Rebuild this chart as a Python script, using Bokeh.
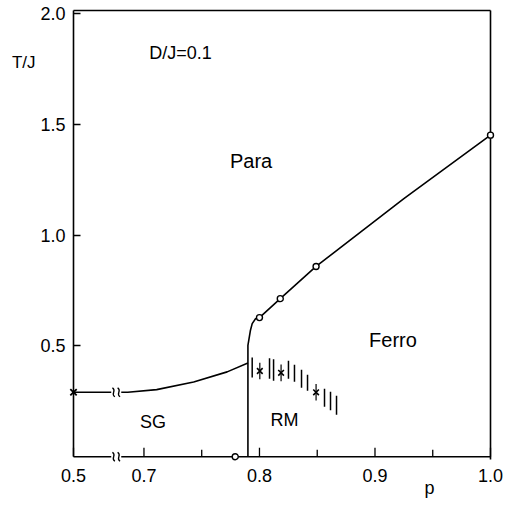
import numpy as np
from bokeh.plotting import figure
from bokeh.models import Range1d, FixedTicker, LinearAxis, Label
from bokeh.embed import file_html
from bokeh.resources import INLINE

# ---------------- data ----------------
X_TICK_VALUES = [0.5, 0.7, 0.8, 0.9, 1.0]
X_TICK_LABELS = ["0.5", "0.7", "0.8", "0.9", "1.0"]
X_MINOR_VALUES = [0.75, 0.85, 0.95]
Y_TICK_VALUES = [0.5, 1.0, 1.5, 2.0]
Y_TICK_LABELS = ["0.5", "1.0", "1.5", "2.0"]

# SG / Para boundary
sg_p = [0.5, 0.686, 0.711, 0.743, 0.772, 0.790]
sg_T = [0.291, 0.291, 0.303, 0.337, 0.383, 0.423]

# RM / SG vertical boundary continuing into Ferro / Para line
bound_p = [0.790, 0.790, 0.7922, 0.7937, 0.7966, 0.800, 0.818, 0.849, 0.925, 1.0]
bound_T = [0.0, 0.503, 0.571, 0.601, 0.623, 0.628, 0.7136, 0.859, 1.165, 1.4515]

# open circles (Ferro transition points)
circle_p = [0.800, 0.818, 0.849, 1.0]
circle_T = [0.628, 0.7136, 0.859, 1.4515]

# open circle on the p axis
zero_p = [0.779]
zero_T = [0.0]

# SG cross at p = 0.5
sg_cross_p = [0.5]
sg_cross_T = [0.291]

# RM crosses with error bars
rm_cross_p = [0.8003, 0.8187, 0.8490]
rm_cross_T = [0.387, 0.3788, 0.2909]
rm_cross_err = [0.037, 0.038, 0.037]

# hatched RM band (vertical bars)
hatch_p = [0.7937, 0.8087, 0.8122, 0.8251, 0.8303, 0.8364, 0.8416, 0.8563, 0.8615, 0.8667]
hatch_lo = [0.3573, 0.3518, 0.3428, 0.3518, 0.3383, 0.3112, 0.2977, 0.2255, 0.2097, 0.1894]
hatch_hi = [0.4475, 0.4443, 0.4398, 0.4330, 0.4150, 0.3924, 0.3698, 0.3067, 0.2932, 0.2751]

# axis titles
X_TITLE = "p"
Y_TITLE = "T/J"

# ---------------- layout ----------------
FRAME_W, FRAME_H = 417, 449
X_START, X_END = 0.639, 1.0
Y_START, Y_END = -0.0125, 2.0142
P_BREAK = 0.676
PXX = (X_END - X_START) / FRAME_W
PXY = (Y_END - Y_START) / FRAME_H
FONT = "Liberation Sans"
LW = 1.6


def xd(pv):
    """Broken p axis: values below the break are compressed to the left."""
    if pv >= P_BREAK:
        return pv
    return X_START + (pv - 0.5) * (P_BREAK - X_START) / (P_BREAK - 0.5)


def split_at_break(xs, ys, gap):
    out_x, out_y = [], []
    for i in range(len(xs)):
        if i > 0 and xs[i - 1] < P_BREAK <= xs[i]:
            xa, xb = P_BREAK - gap, P_BREAK + gap
            out_x += [xa, float("nan"), xb]
            out_y += [float(np.interp(xa, xs[i - 1:i + 1], ys[i - 1:i + 1])), float("nan"),
                      float(np.interp(xb, xs[i - 1:i + 1], ys[i - 1:i + 1]))]
        out_x.append(xs[i])
        out_y.append(ys[i])
    return out_x, out_y


p = figure(width=514, height=506, output_backend="svg", toolbar_location=None,
           x_range=Range1d(X_START, X_END), y_range=Range1d(Y_START, Y_END),
           min_border_left=73, min_border_right=24, min_border_top=10, min_border_bottom=47)
p.outline_line_color = None
p.xgrid.visible = False
p.ygrid.visible = False
p.background_fill_color = "white"
p.border_fill_color = "white"

# x axis: labels only (ticks and line drawn at T = 0 because of the break)
xa = p.xaxis[0]
xa.ticker = FixedTicker(ticks=[xd(v) for v in X_TICK_VALUES])
xa.major_label_overrides = {xd(v): s for v, s in zip(X_TICK_VALUES, X_TICK_LABELS)}
xa.axis_line_color = None
xa.major_tick_in, xa.major_tick_out = 0, 0
xa.minor_tick_in, xa.minor_tick_out = 0, 0
xa.major_label_text_font = FONT
xa.major_label_text_font_size = "18px"
xa.major_label_text_color = "black"
xa.major_label_standoff = 9

# second bottom axis carrying the "p" title
P_TITLE_POS = 0.9472
xt = LinearAxis(ticker=FixedTicker(ticks=[P_TITLE_POS]), major_label_overrides={P_TITLE_POS: X_TITLE},
                axis_line_color=None, major_tick_in=0, major_tick_out=0, minor_tick_in=0,
                minor_tick_out=0, major_label_text_font=FONT, major_label_text_font_size="18px",
                major_label_text_color="black", major_label_standoff=-7)
p.add_layout(xt, "below")

ya = p.yaxis[0]
ya.ticker = FixedTicker(ticks=Y_TICK_VALUES)
ya.major_label_overrides = {v: s for v, s in zip(Y_TICK_VALUES, Y_TICK_LABELS)}
ya.bounds = (0, Y_END)
ya.axis_line_width = LW
ya.axis_line_color = "black"
ya.major_tick_in, ya.major_tick_out = 7, 0
ya.minor_tick_in, ya.minor_tick_out = 0, 0
ya.major_tick_line_width = 1.3
ya.major_tick_line_color = "black"
ya.major_label_text_font = FONT
ya.major_label_text_font_size = "18px"
ya.major_label_text_color = "black"
ya.major_label_standoff = 8

# second left axis carrying the "T/J" title
T_TITLE_POS = 1.779
yt = LinearAxis(ticker=FixedTicker(ticks=[T_TITLE_POS]), major_label_overrides={T_TITLE_POS: Y_TITLE},
                axis_line_color=None, major_tick_in=0, major_tick_out=0, minor_tick_in=0,
                minor_tick_out=0, major_label_text_font=FONT, major_label_text_font_size="17px",
                major_label_text_color="black", major_label_standoff=2)
p.add_layout(yt, "left")

for loc in ("above", "right"):
    ax = LinearAxis(ticker=FixedTicker(ticks=[]), major_tick_in=0, major_tick_out=0,
                    minor_tick_in=0, minor_tick_out=0, major_label_text_font_size="0px",
                    axis_line_width=LW, axis_line_color="black")
    p.add_layout(ax, loc)

# bottom frame line (T = 0) with break, as two segments
GAP = 5 * PXX
p.segment(x0=[X_START, P_BREAK + GAP], y0=[0.0, 0.0], x1=[P_BREAK - GAP, X_END], y1=[0.0, 0.0],
          line_color="black", line_width=LW, level="overlay")

# x ticks drawn inward from T = 0
maj_x = [xd(v) for v in X_TICK_VALUES]
p.segment(x0=maj_x, y0=[0.0] * len(maj_x), x1=maj_x, y1=[9 * PXY] * len(maj_x),
          line_color="black", line_width=1.3, level="overlay")
p.segment(x0=X_MINOR_VALUES, y0=[0.0] * len(X_MINOR_VALUES), x1=X_MINOR_VALUES,
          y1=[7 * PXY] * len(X_MINOR_VALUES), line_color="black", line_width=1.3, level="overlay")

# SG / Para boundary with break
sx, sy = split_at_break([xd(v) for v in sg_p], sg_T, GAP)
p.line(sx, sy, line_color="black", line_width=LW)

# break marks
brk_y = [0.0, float(np.interp(P_BREAK, [xd(v) for v in sg_p], sg_T))]
bz = dict(x0=[], y0=[], x1=[], y1=[], cx0=[], cy0=[], cx1=[], cy1=[])
for yc in brk_y:
    for off in (-2.6, 2.6):
        xc = P_BREAK + off * PXX
        h = 4.5 * PXY
        bz["x0"].append(xc - 1.2 * PXX); bz["y0"].append(yc + h)
        bz["x1"].append(xc + 1.2 * PXX); bz["y1"].append(yc - h)
        bz["cx0"].append(xc + 3.5 * PXX); bz["cy0"].append(yc + 0.2 * h)
        bz["cx1"].append(xc - 3.5 * PXX); bz["cy1"].append(yc - 0.2 * h)
p.bezier(line_color="black", line_width=1.3, level="overlay", **bz)

# boundary line RM/Ferro-Para
p.line([xd(v) for v in bound_p], bound_T, line_color="black", line_width=LW)

# hatched RM band
p.segment(x0=[xd(v) for v in hatch_p], y0=hatch_lo, x1=[xd(v) for v in hatch_p], y1=hatch_hi,
          line_color="black", line_width=1.5)

# RM crosses with error bars
p.segment(x0=[xd(v) for v in rm_cross_p], y0=[t - e for t, e in zip(rm_cross_T, rm_cross_err)],
          x1=[xd(v) for v in rm_cross_p], y1=[t + e for t, e in zip(rm_cross_T, rm_cross_err)],
          line_color="black", line_width=1.2)
p.scatter([xd(v) for v in rm_cross_p], rm_cross_T, marker="x", size=8, line_color="black",
          line_width=1.6)

# SG cross
p.scatter([xd(v) for v in sg_cross_p], sg_cross_T, marker="x", size=9, line_color="black",
          line_width=1.8, level="overlay")

# open circles
p.scatter([xd(v) for v in circle_p], circle_T, marker="circle", size=6, line_color="black",
          fill_color="white", line_width=1.4, level="overlay")
p.scatter([xd(v) for v in zero_p], zero_T, marker="circle", size=6, line_color="black",
          fill_color="white", line_width=1.4, level="overlay")


def lab(x, y, text, size):
    p.add_layout(Label(x=x, y=y, text=text, text_font=FONT, text_font_size=size,
                       text_color="black", text_align="center", text_baseline="middle"))


lab(0.7316, 1.8226, "D/J=0.1", "18px")
lab(0.7927, 1.337, "Para", "20px")
lab(0.9156, 0.528, "Ferro", "20px")
lab(0.7078, 0.1558, "SG", "18px")
lab(0.8217, 0.168, "RM", "18px")

open("out.html", "w").write(file_html(p, INLINE))
